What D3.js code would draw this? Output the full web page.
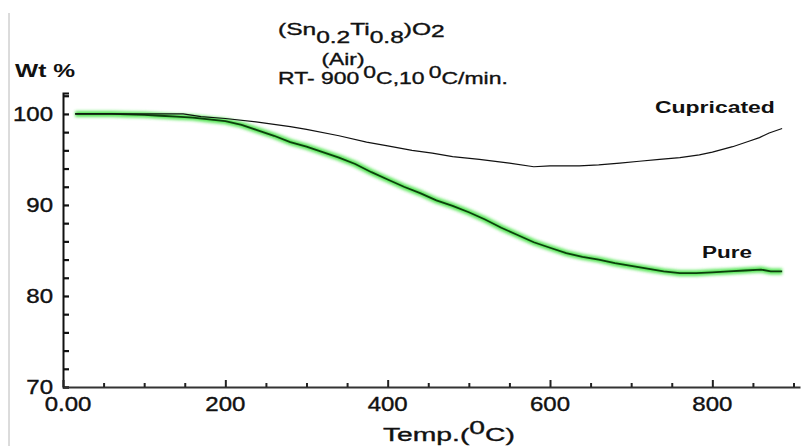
<!DOCTYPE html>
<html>
<head>
<meta charset="utf-8">
<script src="https://cdn.jsdelivr.net/npm/d3@7"></script>
<style>
  body { margin: 0; background: #fff; }
  svg { display: block; font-family: "Liberation Sans", Arial, sans-serif; }
</style>
</head>
<body>
<svg id="chart" width="802" height="446"></svg>
<script>
// TGA data (temperature in C, weight %)
var pureTemp = [15, 40, 60, 80, 100, 120, 140, 160, 180, 200, 220, 240, 260, 280, 300, 320, 340, 360, 380, 400,
                420, 440, 460, 480, 500, 520, 540, 560, 580, 600, 620, 640, 660, 680, 700, 720, 740, 760, 780, 800,
                820, 840, 860, 872, 886];
var pureWt = [100.0, 100.0, 100.0, 99.95, 99.9, 99.8, 99.7, 99.6, 99.4, 99.2, 98.8, 98.2, 97.6, 96.9, 96.4, 95.8, 95.2, 94.5, 93.6, 92.8,
              92.0, 91.3, 90.5, 89.9, 89.2, 88.4, 87.5, 86.7, 85.9, 85.3, 84.7, 84.3, 84.0, 83.6, 83.3, 83.0, 82.7, 82.5, 82.5, 82.6,
              82.7, 82.8, 82.9, 82.7, 82.7];

var cupTemp = [15, 50, 100, 148, 170, 200, 240, 280, 300, 340, 374, 400, 430, 455, 480, 513, 550, 580, 600, 636,
               660, 686, 710, 735, 760, 784, 800, 825, 845, 858, 870, 886];
var cupWt = [100.0, 100.0, 100.0, 100.0, 99.7, 99.5, 99.1, 98.6, 98.3, 97.6, 96.9, 96.5, 96.0, 95.7, 95.3, 95.0, 94.6, 94.2, 94.3, 94.3,
             94.4, 94.6, 94.8, 95.0, 95.2, 95.5, 95.8, 96.4, 97.0, 97.4, 97.9, 98.4];

var xTicks = [0, 200, 400, 600, 800];
var xTickLabels = ["0.00", "200", "400", "600", "800"];
var yTicks = [70, 80, 90, 100];

var svg = d3.select("#chart");

var x = d3.scaleLinear().domain([0, 908]).range([63, 800]);
var y = d3.scaleLinear().domain([70, 102.3]).range([387, 93]);

// the scanned figure's lettering is wide, so stretch text horizontally
function stretchTo(sel, width, anchorX) {
    var bb = sel.node().getBBox();
    var k = width / bb.width;
    var ax = anchorX == null ? bb.x : anchorX;
    sel.attr("transform", "translate(" + ax + ",0) scale(" + k + ",1) translate(" + (-ax) + ",0)");
}
function stretchBy(sel, k, anchorX) {
    sel.attr("transform", "translate(" + anchorX + ",0) scale(" + k + ",1) translate(" + (-anchorX) + ",0)");
}

// thin grey border on the left
svg.append("line")
    .attr("x1", 9).attr("x2", 9).attr("y1", 13).attr("y2", 446)
    .attr("stroke", "#b8b8b8").attr("stroke-width", 1);

// y axis
var yAxis = d3.axisRight(y)
    .tickValues(d3.range(70, 102.1, 2))
    .tickSize(6)
    .tickFormat("");
svg.append("g")
    .attr("transform", "translate(63,0)")
    .call(yAxis)
    .call(function(g) {
        g.select(".domain").attr("stroke", "#111").attr("stroke-width", 2);
        g.selectAll(".tick line").attr("stroke", "#111").attr("stroke-width", 2.2);
    });

svg.append("g").selectAll("text")
    .data(yTicks)
    .enter().append("text")
    .attr("x", 53)
    .attr("y", function(d) { return y(d) + 7; })
    .attr("text-anchor", "end")
    .attr("font-size", 20)
    .attr("fill", "#111").attr("stroke", "#111").attr("stroke-width", 0.4)
    .text(function(d) { return d; })
    .each(function() { stretchBy(d3.select(this), 1.2, 53); });

// x axis
var xAxis = d3.axisTop(x)
    .tickValues(d3.range(0, 901, 50))
    .tickSize(0)
    .tickFormat("");
var gx = svg.append("g")
    .attr("transform", "translate(0,387)")
    .call(xAxis);
gx.select(".domain").attr("stroke", "#333").attr("stroke-width", 2);
gx.selectAll(".tick line")
    .attr("stroke", "#222")
    .attr("stroke-width", 2)
    .attr("y2", function(d) { return d % 200 === 0 ? -7 : -4; });

svg.append("g").selectAll("text")
    .data(xTicks)
    .enter().append("text")
    .attr("x", function(d) { return x(d) + (d === 0 ? 5 : 0); })
    .attr("y", 411)
    .attr("text-anchor", "middle")
    .attr("font-size", 20)
    .attr("fill", "#111").attr("stroke", "#111").attr("stroke-width", 0.4)
    .text(function(d, i) { return xTickLabels[i]; })
    .each(function(d) { stretchBy(d3.select(this), 1.2, x(d) + (d === 0 ? 5 : 0)); });

// curves
var line = d3.line()
    .x(function(d) { return x(d[0]); })
    .y(function(d) { return y(d[1]); });

var pure = d3.zip(pureTemp, pureWt);
var cup = d3.zip(cupTemp, cupWt);

var defs = svg.append("defs");
defs.append("filter").attr("id", "glow")
    .append("feGaussianBlur").attr("stdDeviation", 1.5);

svg.append("path")
    .datum(pure)
    .attr("d", line)
    .attr("fill", "none")
    .attr("stroke", "#2ee02e")
    .attr("stroke-width", 6)
    .attr("opacity", 0.8)
    .attr("filter", "url(#glow)");

svg.append("path")
    .datum(pure)
    .attr("d", line)
    .attr("fill", "none")
    .attr("stroke", "#0c3f0c")
    .attr("stroke-width", 1.8);

svg.append("path")
    .datum(cup)
    .attr("d", line)
    .attr("fill", "none")
    .attr("stroke", "#111")
    .attr("stroke-width", 1.2);

// labels
var wt = svg.append("text")
    .attr("x", 15).attr("y", 77)
    .attr("font-size", 18).attr("font-weight", "bold").attr("fill", "#111")
    .text("Wt %");
stretchTo(wt, 60);

var cupLabel = svg.append("text")
    .attr("x", 655).attr("y", 113)
    .attr("font-size", 17).attr("font-weight", "bold").attr("fill", "#111")
    .text("Cupricated");
stretchTo(cupLabel, 120);

var pureLabel = svg.append("text")
    .attr("x", 702).attr("y", 258)
    .attr("font-size", 17).attr("font-weight", "bold").attr("fill", "#111")
    .text("Pure");
stretchTo(pureLabel, 50);

// title block
var t1 = svg.append("text")
    .attr("x", 278).attr("y", 35)
    .attr("font-size", 16).attr("fill", "#111")
    .attr("stroke", "#111").attr("stroke-width", 0.35);
t1.append("tspan").text("(Sn");
t1.append("tspan").attr("dy", 8).text("0.2");
t1.append("tspan").attr("dy", -8).text("Ti");
t1.append("tspan").attr("dy", 8).text("0.8");
t1.append("tspan").attr("dy", -8).text(")O");
t1.append("tspan").attr("dy", 2).text("2");
stretchTo(t1, 167);

var air = svg.append("text")
    .attr("x", 343).attr("y", 65)
    .attr("text-anchor", "middle")
    .attr("font-size", 17).attr("fill", "#111")
    .attr("stroke", "#111").attr("stroke-width", 0.35)
    .text("(Air)");
stretchTo(air, 43, 343);

var t3 = svg.append("text")
    .attr("x", 278).attr("y", 84)
    .attr("font-size", 17).attr("fill", "#111")
    .attr("stroke", "#111").attr("stroke-width", 0.35);
t3.append("tspan").text("RT- 900");
t3.append("tspan").attr("dx", 3).attr("dy", -6).text("0");
t3.append("tspan").attr("dy", 6).text("C,10");
t3.append("tspan").attr("dx", 3).attr("dy", -6).text("0");
t3.append("tspan").attr("dy", 6).text("C/min.");
stretchTo(t3, 230);

var t4 = svg.append("text")
    .attr("x", 383).attr("y", 441)
    .attr("font-size", 18).attr("fill", "#111")
    .attr("stroke", "#111").attr("stroke-width", 0.35);
t4.append("tspan").text("Temp.(");
t4.append("tspan").attr("dy", -7).text("0");
t4.append("tspan").attr("dy", 7).text("C)");
stretchTo(t4, 132);
</script>
</body>
</html>
